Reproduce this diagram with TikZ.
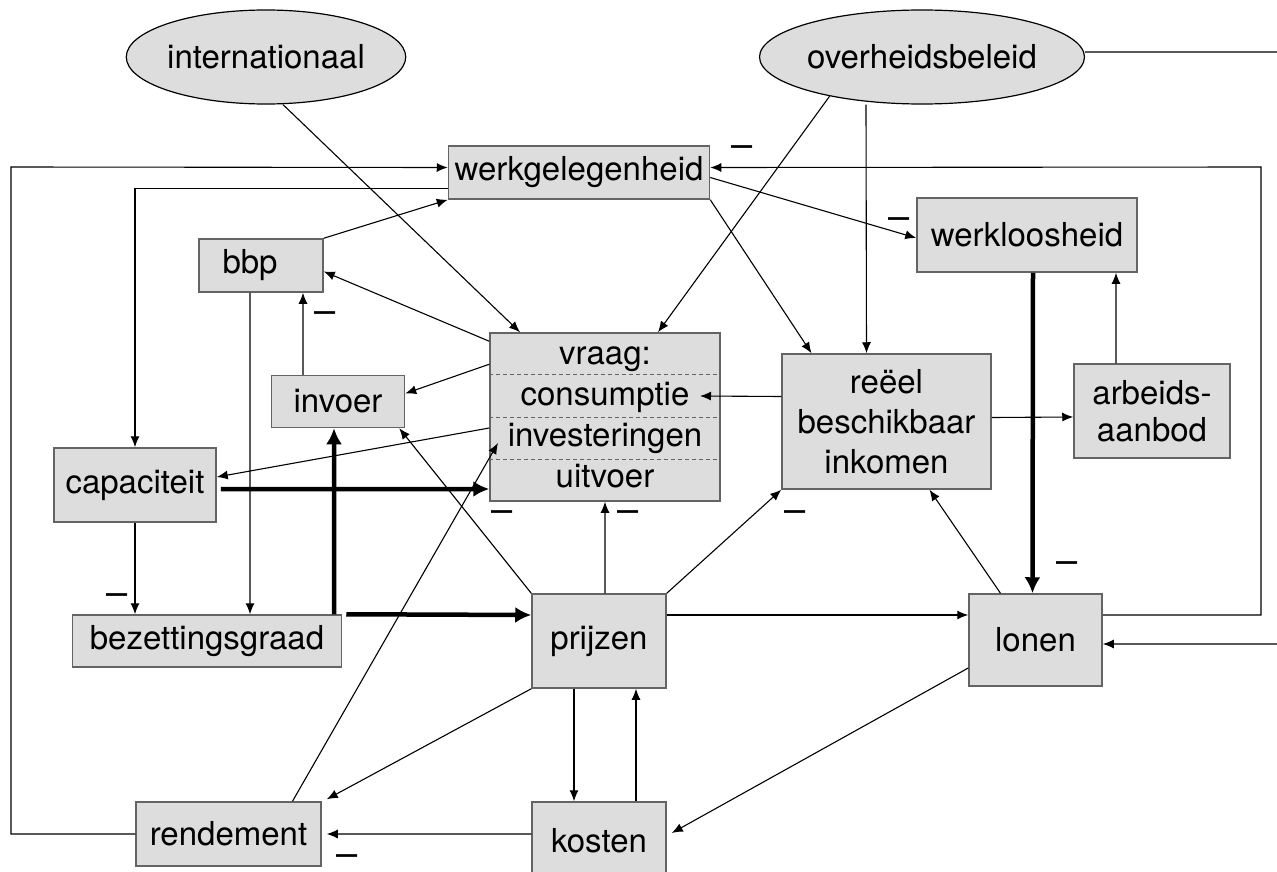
\documentclass[tikz,border=0pt]{standalone}
\usepackage{fontspec}
\setmainfont{TeX Gyre Heros}
\usepackage{tikz}
\usetikzlibrary{arrows,arrows.meta,positioning,shapes.geometric,calc}
\definecolor{vulgrijs}{RGB}{221,221,221}
\definecolor{randgrijs}{RGB}{100,100,100}
\tikzset{
    %Define standard arrow tip
    >={Latex[length=11bp,width=9bp]},
    %Define style for boxes
    blok/.style={
           rectangle,
           draw=randgrijs, line width=1.5bp,
           fill=vulgrijs,
           inner sep=0pt,
           font=\fontsize{33bp}{40bp}\selectfont,
           align=center},
    ovaal/.style={
           ellipse,
           draw=black, line width=1.2bp,
           fill=vulgrijs,
           inner sep=0pt,
           font=\fontsize{33bp}{40bp}\selectfont},
    % Define arrow style
    pijl/.style={
           ->,
           line width=1.1bp},
    dikpijl/.style={
           ->, >={Latex[length=16bp,width=16bp]},
           line width=4.5bp},
    minteken/.style={
           font=\fontsize{38bp}{40bp}\selectfont,
           anchor=base,
           inner sep=0pt}
}
\begin{document}
\begin{tikzpicture}[x=1bp,y=-1bp]
\useasboundingbox (0,0) rectangle (1277,872);
\clip (0,0) rectangle (1277,872);
\node[ovaal, minimum width=259bp, minimum height=94bp] (1) at (266,57) {internationaal};
\node[ovaal, minimum width=280bp, minimum height=94bp] (2) at (922,57) {overheidsbeleid};
\node[blok, minimum width=261bp, minimum height=53bp] (3) at (579,172.5) {werkgelegenheid};
\node[blok, minimum width=220bp, minimum height=74bp] (4) at (1027,235) {werkloosheid};
\node[blok, minimum width=124bp, minimum height=53bp,
      text width=77bp, align=left] (5) at (261,265.5) {bbp};
\node[blok, minimum width=230bp, minimum height=168bp,
      font=\fontsize{33bp}{41bp}\selectfont] (6) at (605,417)
      {vraag:\\consumptie\\investeringen\\uitvoer};
\node[blok, minimum width=209bp, minimum height=135bp] (7) at (886.5,421.5)
      {reëel\\beschikbaar\\inkomen};
\node[blok, minimum width=156bp, minimum height=94bp,
      font=\fontsize{33bp}{37bp}\selectfont] (8) at (1152,411) {arbeids-\\aanbod};
\node[blok, minimum width=133bp, minimum height=52bp] (9) at (338,401.5) {invoer};
\node[blok, minimum width=162bp, minimum height=74bp] (10) at (135,485) {capaciteit};
\node[blok, minimum width=269bp, minimum height=52bp] (11) at (207,641) {bezettingsgraad};
\node[blok, minimum width=134bp, minimum height=94bp] (12) at (599,641) {prijzen};
\node[blok, minimum width=133bp, minimum height=92bp] (13) at (1035.5,640) {lonen};
\node[blok, minimum width=185bp, minimum height=64bp] (14) at (228.5,834) {rendement};
\node[blok, minimum width=134bp, minimum height=78bp] (15) at (599,841) {kosten};
\coordinate (links) at (11,167);
\coordinate (rechts) at (1261,167);
\coordinate (buiten) at (1300,644);
\coordinate (6c) at (700,396);
\coordinate (6i) at (498,443);
\draw[randgrijs, line width=1bp, dash pattern=on 4bp off 3bp]
    ($(6.north west)!.25!(6.south west)$) -- ($(6.north east)!.25!(6.south east)$);
\draw[randgrijs, line width=1bp, dash pattern=on 4bp off 3bp]
    ($(6.north west)!.5!(6.south west)$) -- ($(6.north east)!.5!(6.south east)$);
\draw[randgrijs, line width=1bp, dash pattern=on 4bp off 3bp]
    ($(6.north west)!.75!(6.south west)$) -- ($(6.north east)!.75!(6.south east)$);
\draw[pijl] ([xshift=17bp]1.south) -- ([xshift=-85bp]6.north);
\draw[pijl] (2.203) -- ([xshift=53bp]6.north);
\draw[pijl] ([xshift=-56bp]2.south) -- ([xshift=-20bp]7.north);
\draw[pijl] ([yshift=5bp]2.east) -| (buiten) -- ([yshift=-4bp]13.east);
\draw[pijl] (14.west) -| (links) -- ([yshift=5bp]3.west);
\draw[pijl] ([yshift=-16bp]3.west) -| (10.north);
\draw[pijl] (5.north east) -- (3.south west);
\draw[pijl] ([yshift=-5bp]3.east) -- ([yshift=-3bp]4.west);
\draw[pijl] ([yshift=25bp]13.east) -| (rechts) -- ([yshift=5bp]3.east);
\draw[pijl] (3.south east) -- ([xshift=-75bp]7.north);
\draw[dikpijl] ([xshift=6bp]4.south) -- ([xshift=-3bp]13.north);
\draw[pijl] ([xshift=-36bp]8.north) -- ([xshift=89bp]4.south);
\draw[pijl] ([yshift=4bp]7.east) -- ([yshift=-6bp]8.west);
\draw[pijl] ([yshift=25bp]7.west) -- (6c);
\draw[pijl] ([yshift=-9bp]6.north west) -- ([yshift=-6bp]5.east);
\draw[pijl] ([yshift=-32bp]6.north west) -- ([yshift=8bp]9.east);
\draw[pijl] ([yshift=-11bp]6.west) -- ([yshift=8bp]10.east);
\draw[dikpijl] ([xshift=4bp,yshift=-4bp]10.east) -- ([yshift=-72bp]6.west);
\draw[pijl] ([xshift=-35bp]9.north) -- ([xshift=42bp]5.south);
\draw[pijl] ([xshift=-11bp]5.south) -- ([xshift=43bp]11.north);
\draw[pijl] (10.south) -- (10.south |- 11.north);
\draw[dikpijl] ([xshift=127bp]11.north) -- ([xshift=-4bp]9.south);
\draw[dikpijl] ([xshift=4bp]11.north east) -- ([yshift=26bp]12.west);
\draw[pijl] (12.north west) -- ([xshift=-6bp]9.south east);
\draw[pijl] ([xshift=64bp]14.north) -- (6i);
\draw[pijl] ([xshift=6bp]12.north) -- (6.south);
\draw[pijl] (12.north east) -- (7.south west);
\draw[pijl] ([yshift=26bp]12.east) -- ([yshift=25bp]13.west);
\draw[pijl] ([xshift=-35bp]13.north) -- ([xshift=43bp]7.south);
\draw[pijl] (12.south west) -- ([xshift=5bp,yshift=2bp]14.north east);
\draw[pijl] ([xshift=-25bp]12.south) -- ([xshift=-25bp]15.north);
\draw[pijl] ([xshift=37bp]15.north) -- ([xshift=37bp]12.south);
\draw[pijl] ([yshift=7bp]15.west) -- ([xshift=5bp]14.east);
\draw[pijl] ([yshift=-28bp]13.west) -- ([xshift=5bp,yshift=8bp]15.east);
\node[minteken] (m1) at (742,157) {\textendash};
\node[minteken] (m2) at (899,229) {\textendash};
\node[minteken] (m3) at (325,323) {\textendash};
\node[minteken] (m4) at (502,522) {\textendash};
\node[minteken] (m5) at (628,522) {\textendash};
\node[minteken] (m6) at (795,522) {\textendash};
\node[minteken] (m7) at (1067,573) {\textendash};
\node[minteken] (m8) at (117,605) {\textendash};
\node[minteken] (m9) at (347,866) {\textendash};
\end{tikzpicture}
\end{document}
